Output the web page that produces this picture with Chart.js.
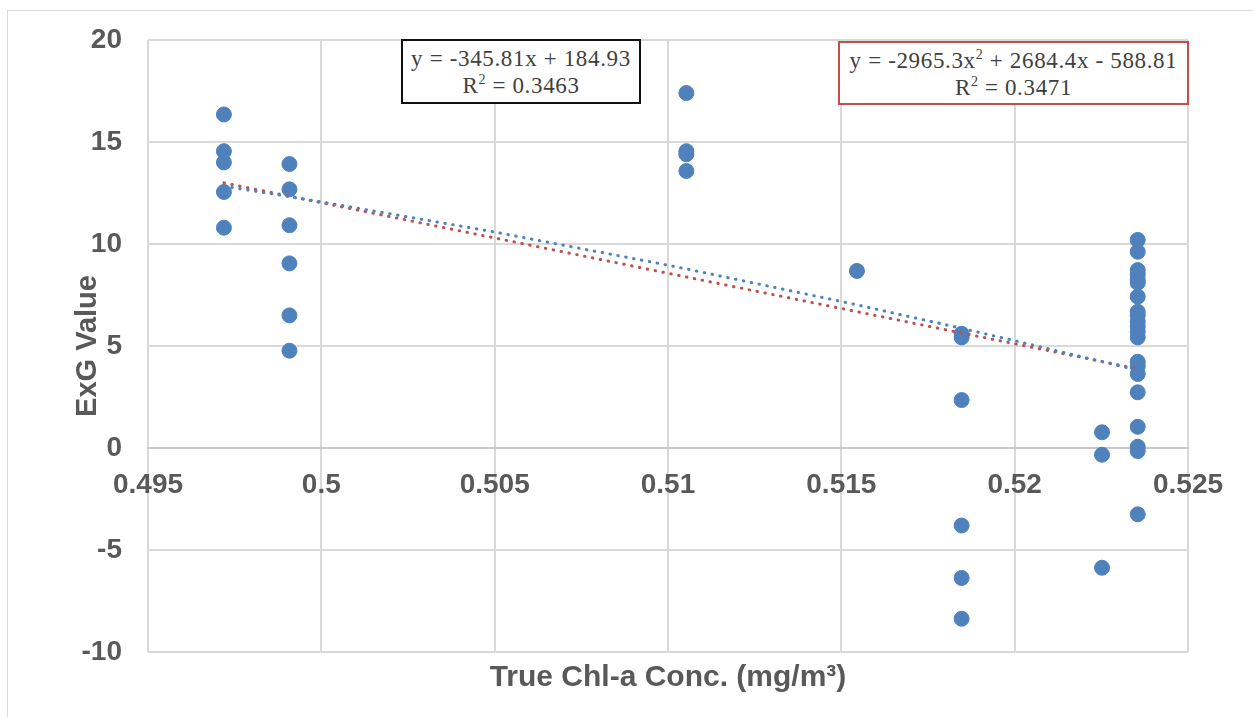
<!DOCTYPE html>
<html>
<head>
<meta charset="utf-8">
<script src="https://cdn.jsdelivr.net/npm/chart.js@4/dist/chart.umd.min.js"></script>
<style>
  html, body { margin: 0; padding: 0; background: #fff; overflow: hidden; }
  #frame { position: absolute; left: 7px; top: 10px; width: 1300px; height: 800px; border: 1.5px solid #d9d9d9; }
  #wrap { position: absolute; left: 0; top: 0; width: 1253px; height: 717px; }
  .eq {
    position: absolute; background: #fff; color: #404040; text-align: center;
    font-family: "Liberation Serif", serif; font-size: 23px; line-height: 27px; letter-spacing: 0.65px;
    box-sizing: border-box; padding-top: 4px;
  }
  .eq sup { font-size: 14px; line-height: 0; vertical-align: 9px; }
  #eqLin { left: 401px; top: 39px; width: 240px; height: 65px; border: 2px solid #111; }
  #eqPoly { left: 838px; top: 41px; width: 351px; height: 64px; border: 2px solid #c0504d; }
</style>
</head>
<body>
<div id="frame"></div>
<div id="wrap"><canvas id="chart"></canvas></div>
<div class="eq" id="eqLin">y = -345.81x + 184.93<br>R<sup>2</sup> = 0.3463</div>
<div class="eq" id="eqPoly">y = -2965.3x<sup>2</sup> + 2684.4x - 588.81<br>R<sup>2</sup> = 0.3471</div>
<script>
// measured points, grouped by concentration column
const chlX = [0.49719, 0.49908, 0.51053, 0.51545, 0.51847, 0.52252, 0.52355];
const exgByCol = [
  [16.35, 14.55, 14.0, 12.55, 10.8],
  [13.92, 12.68, 10.92, 9.05, 6.5, 4.77],
  [17.4, 14.55, 14.4, 13.58],
  [8.68],
  [5.6, 5.42, 2.35, -3.8, -6.37, -8.37],
  [0.77, -0.33, -5.87],
  [10.2, 9.62, 8.72, 8.5, 8.25, 8.1, 7.42, 6.68, 6.5, 6.2, 5.95, 5.7, 5.42, 4.23, 4.0, 3.63, 2.73, 1.04, 0.06, -0.15, -3.25]
];

// trendline coefficients as printed on the chart
const linCoef = [184.93, -345.81];            // c0, c1
const polyCoef = [-588.81, 2684.4, -2965.3];  // c0, c1, c2

const xTicks = [0.495, 0.5, 0.505, 0.51, 0.515, 0.52, 0.525];
const xTickLabels = ['0.495', '0.5', '0.505', '0.51', '0.515', '0.52', '0.525'];
const yTicks = [-10, -5, 0, 5, 10, 15, 20];
const yTickLabels = ['-10', '-5', '0', '5', '10', '15', '20'];

const points = [];
chlX.forEach((x, i) => exgByCol[i].forEach(y => points.push({ x: x, y: y })));

const evalPoly = (c, x) => c.reduce((s, k, p) => s + k * Math.pow(x, p), 0);
const xMin = chlX[0], xMax = chlX[chlX.length - 1];
const trendX = [xMin].concat(xTicks.filter(v => v > xMin && v < xMax), chlX.slice(1, -1), [xMax]).sort((a, b) => a - b);
const linLine = [xMin, xMax].map(x => ({ x: x, y: evalPoly(linCoef, x) }));
const polyLine = trendX.map(x => ({ x: x, y: evalPoly(polyCoef, x) }));

const grey = '#595959';
const sans = 'Liberation Sans, Arial, sans-serif';
const tickFont = { family: sans, size: 28, weight: 'bold' };
const dotted = { showLine: true, pointRadius: 0, borderWidth: 3, borderDash: [0.5, 7.5], borderCapStyle: 'round', fill: false };

new Chart(document.getElementById('chart'), {
  type: 'scatter',
  data: {
    datasets: [
      Object.assign({ label: 'Poly. trend', data: polyLine, borderColor: '#4f81bd' }, dotted),
      Object.assign({ label: 'Linear trend', data: linLine, borderColor: '#c0504d' }, dotted),
      { label: 'ExG', data: points, backgroundColor: '#4f81bd', borderColor: '#4f81bd', pointRadius: 7.5, pointHoverRadius: 7.5 }
    ]
  },
  options: {
    responsive: true,
    maintainAspectRatio: false,
    animation: false,
    events: [],
    layout: { padding: { left: 70, right: 65, top: 40, bottom: 0 } },
    plugins: { legend: { display: false }, tooltip: { enabled: false } },
    scales: {
      x: {
        type: 'linear', min: 0.495, max: 0.525,
        position: { y: 0 },
        afterBuildTicks: s => { s.ticks = xTicks.map(v => ({ value: v })); },
        ticks: { callback: (v, i) => xTickLabels[i], font: tickFont, color: grey, padding: 20, maxRotation: 0, autoSkip: false },
        grid: { color: '#d9d9d9', lineWidth: 2, drawTicks: false },
        border: { display: true, color: '#c8c8c8', width: 2 }
      },
      xt: {
        type: 'linear', position: 'bottom',
        afterFit: s => { s.height = 65; },
        ticks: { display: false },
        grid: { display: false },
        border: { display: false },
        title: { display: true, text: 'True Chl-a Conc. (mg/m³)', font: { family: sans, size: 30, weight: 'bold' }, color: grey, padding: { top: 0, bottom: 21 } }
      },
      y: {
        type: 'linear', min: -10, max: 20,
        afterBuildTicks: s => { s.ticks = yTicks.map(v => ({ value: v })); },
        afterFit: s => { s.width = 78; s.paddingTop = 0; s.paddingBottom = 0; },
        ticks: { callback: (v, i) => yTickLabels[i], font: tickFont, color: grey, padding: 26 },
        grid: { color: '#d9d9d9', lineWidth: 2, drawTicks: false },
        border: { display: false },
        title: { display: true, text: 'ExG Value', font: { family: sans, size: 29, weight: 'bold' }, color: grey, padding: { top: 1, bottom: 0 } }
      }
    }
  }
});
</script>
</body>
</html>
